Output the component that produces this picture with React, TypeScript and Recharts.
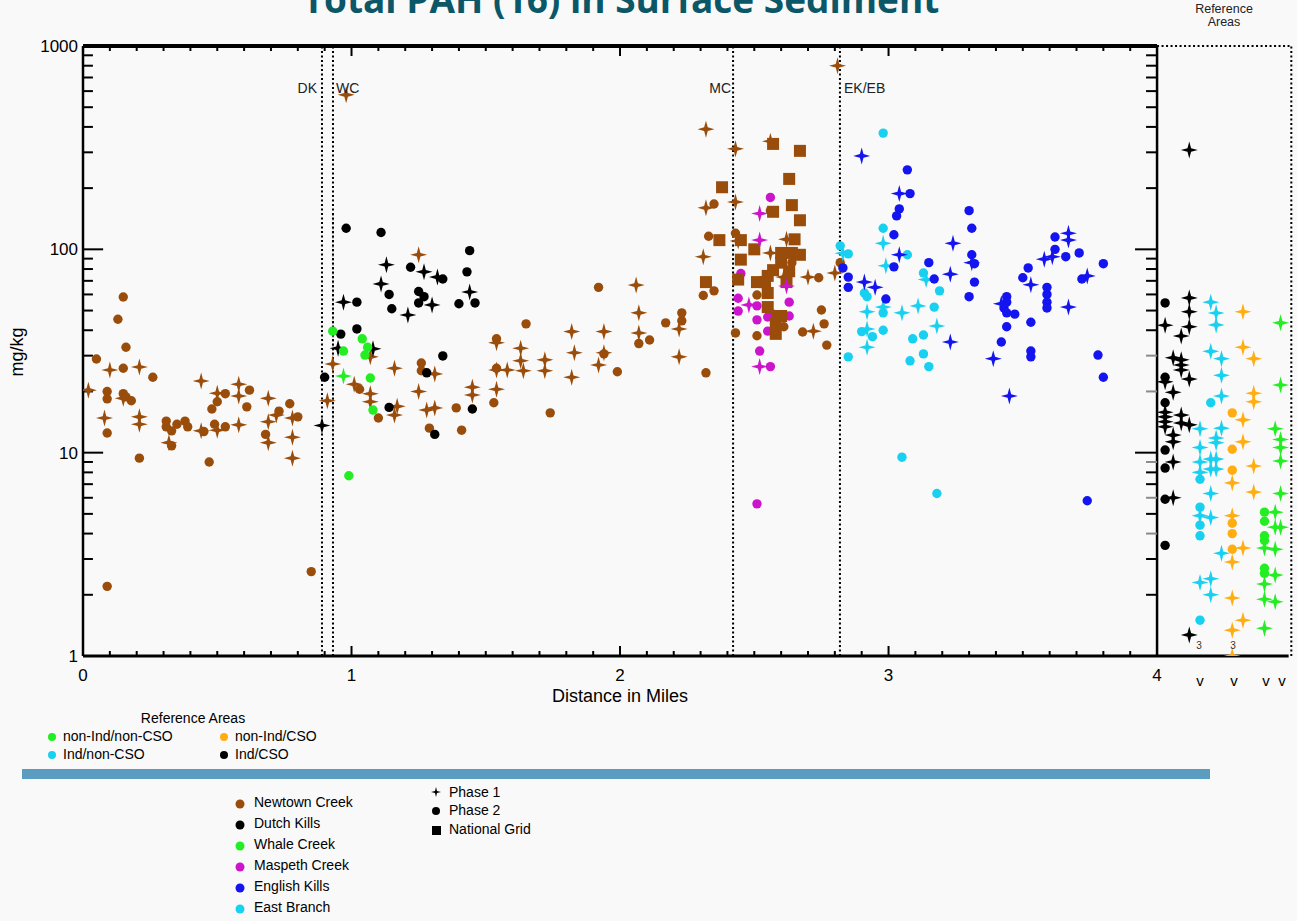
import React from "react";
import { ScatterChart, Scatter, XAxis, YAxis, ReferenceLine } from "recharts";

// [distance in miles, total PAH mg/kg]
const newtownPhase1 = [
  [0.02, 20.3], [0.1, 25.5], [0.08, 14.8], [0.15, 18.5], [0.21, 26.4], [0.21, 15.0], [0.21, 13.8],
  [0.32, 11.2], [0.44, 22.5], [0.44, 12.8], [0.5, 19.6], [0.5, 12.9], [0.58, 21.7], [0.58, 19.0],
  [0.58, 13.7], [0.69, 18.5], [0.69, 14.2], [0.69, 11.2], [0.72, 15.3], [0.78, 14.8], [0.78, 11.9],
  [0.78, 9.4], [0.91, 18.0], [0.93, 27.3], [0.98, 575], [1.01, 21.7], [1.07, 29.6], [1.07, 19.5],
  [1.07, 17.8], [1.16, 26], [1.17, 16.9], [1.16, 15.3], [1.25, 94], [1.25, 20], [1.31, 24.4],
  [1.28, 16.2], [1.31, 16.6], [1.45, 21], [1.45, 19.2], [1.54, 20.5], [1.54, 34.7], [1.54, 25.5],
  [1.58, 25.5], [1.63, 32.6], [1.63, 28.3], [1.64, 25.3], [1.72, 28.6], [1.72, 25.3], [1.82, 39.4],
  [1.83, 31], [1.82, 23.5], [1.94, 39.4], [1.94, 31], [1.92, 27], [2.06, 66.7], [2.07, 48.7],
  [2.07, 38.8], [2.22, 40.6], [2.22, 29.6], [2.32, 390], [2.43, 312], [2.56, 340], [2.32, 160],
  [2.43, 171], [2.44, 110], [2.31, 92], [2.56, 96], [2.62, 112], [2.7, 73], [2.8, 76.5], [2.61, 73],
  [2.72, 39.6], [2.81, 800],
];
const newtownPhase2 = [
  [0.05, 28.9], [0.15, 58.3], [0.13, 45.3], [0.16, 33], [0.15, 26], [0.09, 20], [0.09, 18.4],
  [0.09, 12.5], [0.15, 19.5], [0.16, 18.8], [0.18, 18], [0.26, 23.5], [0.21, 9.4], [0.31, 14.3],
  [0.31, 13.4], [0.33, 12.8], [0.35, 13.8], [0.33, 10.8], [0.38, 14.3], [0.39, 13.4], [0.45, 12.7],
  [0.47, 9.0], [0.48, 16.4], [0.49, 13.8], [0.5, 17.8], [0.53, 19.5], [0.53, 13.4], [0.61, 16.8],
  [0.62, 20.3], [0.68, 12.3], [0.73, 16], [0.77, 17.4], [0.8, 15], [0.09, 2.2], [0.85, 2.6],
  [1.03, 20.5], [1.1, 14.8], [1.26, 27.6], [1.26, 25.3], [1.29, 13.2], [1.39, 16.6], [1.41, 12.9],
  [1.53, 17.6], [1.54, 36.3], [1.54, 26], [1.65, 43], [1.74, 15.7], [1.92, 65], [1.94, 30.6],
  [1.99, 25], [2.07, 34.4], [2.11, 35.8], [2.17, 43.5], [2.23, 48.7], [2.23, 44.5], [2.31, 59.3],
  [2.35, 62.5], [2.32, 24.7], [2.33, 116], [2.35, 167], [2.43, 120], [2.56, 155], [2.64, 86],
  [2.74, 72.5], [2.75, 50.3], [2.51, 59.6], [2.57, 48], [2.76, 43], [2.61, 41.6], [2.43, 38.8],
  [2.51, 37.6], [2.68, 39.2], [2.77, 33.8], [2.82, 86],
];
const newtownNationalGrid = [
  [2.57, 330], [2.67, 305], [2.63, 222], [2.38, 202], [2.64, 165], [2.57, 153], [2.67, 139],
  [2.37, 111], [2.45, 111], [2.65, 112], [2.5, 100], [2.6, 96], [2.64, 96], [2.67, 94], [2.45, 89],
  [2.6, 86], [2.57, 79], [2.63, 78], [2.32, 69], [2.44, 71], [2.51, 69], [2.54, 69], [2.55, 74],
  [2.62, 69], [2.55, 61], [2.55, 52], [2.6, 47], [2.58, 43], [2.58, 38.4],
];
const dutchPhase1 = [
  [0.89, 13.6], [0.95, 32.6], [0.97, 55], [1.11, 67.6], [1.13, 84], [1.08, 32.4], [1.27, 77.5],
  [1.32, 73], [1.3, 53.3], [1.44, 61.7], [1.21, 47.5],
];
const dutchPhase2 = [
  [0.9, 23.5], [0.96, 38.3], [1.02, 55], [1.02, 40.6], [1.14, 60], [1.15, 51], [0.98, 127],
  [1.11, 121], [1.44, 98.5], [1.22, 81.6], [1.34, 71.5], [1.43, 77.5], [1.25, 62], [1.27, 58.5],
  [1.25, 54.5], [1.4, 54], [1.46, 54.5], [1.34, 29.9], [1.28, 24.7], [1.14, 16.7], [1.45, 16.4],
  [1.31, 12.3],
];
const whalePhase1 = [[0.97, 23.8]];
const whalePhase2 = [
  [0.93, 39.6], [0.97, 31.6], [1.04, 36.3], [1.06, 33], [1.05, 30.2], [1.07, 23.3], [1.08, 16.2],
  [0.99, 7.7],
];
const maspethPhase1 = [[2.52, 150], [2.52, 111], [2.62, 66], [2.48, 53.3], [2.52, 26.5]];
const maspethPhase2 = [
  [2.56, 180], [2.45, 76], [2.44, 57.5], [2.51, 52.7], [2.63, 55], [2.44, 49.7], [2.55, 46.5],
  [2.63, 47], [2.51, 45], [2.55, 39.6], [2.52, 31.6], [2.56, 26.5], [2.51, 5.6],
];
const englishPhase1 = [
  [2.9, 288], [3.04, 188], [3.04, 94], [2.91, 69], [2.95, 65], [3.24, 107], [3.23, 75.5],
  [3.23, 35], [3.31, 86], [3.42, 54], [3.39, 29], [3.45, 19], [3.53, 67], [3.58, 89.5], [3.61, 92],
  [3.67, 120], [3.67, 111], [3.67, 52], [3.74, 74],
];
const englishPhase2 = [
  [3.07, 246], [3.08, 188], [3.04, 158], [3.03, 146], [3.02, 118], [3.02, 82], [2.83, 81],
  [2.85, 73], [2.85, 65], [2.99, 57], [3.15, 86], [3.17, 71.5], [3.3, 155], [3.31, 127],
  [3.31, 94], [3.32, 85], [3.32, 69], [3.3, 58.5], [3.52, 81], [3.5, 72.5], [3.44, 58.5],
  [3.44, 55], [3.43, 51.5], [3.44, 48.7], [3.47, 48], [3.44, 41.6], [3.42, 35], [3.59, 65],
  [3.59, 60], [3.59, 55], [3.59, 51.5], [3.53, 43.8], [3.53, 31.6], [3.53, 29.6], [3.62, 115],
  [3.62, 100], [3.66, 92], [3.71, 96], [3.8, 85], [3.72, 71.5], [3.78, 30.2], [3.8, 23.5],
  [3.74, 5.8],
];
const eastPhase1 = [
  [2.98, 107], [2.99, 83], [3.14, 71], [2.92, 49.3], [2.98, 52], [3.05, 48.7], [3.11, 52.7],
  [2.92, 40.6], [2.92, 33], [3.18, 42], [2.83, 95.6],
];
const eastPhase2 = [
  [2.98, 373], [2.98, 127], [2.82, 104], [2.85, 95], [3.07, 94], [3.13, 76.5], [2.91, 61],
  [2.92, 58.5], [2.98, 48.7], [3.17, 52], [3.19, 62.5], [2.9, 39.4], [2.94, 37.2], [2.98, 40],
  [3.09, 36.3], [3.13, 37.9], [2.85, 29.6], [3.08, 28.3], [3.13, 30.6], [3.15, 26.5], [3.05, 9.5],
  [3.18, 6.3],
];

// reference areas, drawn right of mile 4
const refIndCsoPhase1 = [
  [4.03, 42.3], [4.12, 57.7], [4.12, 49.3], [4.12, 41.6], [4.09, 37.5], [4.06, 29.3], [4.09, 28.6],
  [4.09, 27], [4.09, 25.5], [4.12, 23], [4.03, 22.3], [4.06, 19.8], [4.03, 15.8], [4.03, 15],
  [4.03, 14.2], [4.03, 13.4], [4.09, 15.3], [4.09, 14], [4.12, 13.7], [4.06, 12.2], [4.06, 11.3],
  [4.06, 9.0], [4.06, 6.0], [4.12, 1.27], [4.12, 308],
];
const refIndCsoPhase2 = [[4.03, 54.5], [4.03, 23.5], [4.03, 17.6], [4.03, 10.3], [4.03, 8.4], [4.03, 5.9], [4.03, 3.5]];
const refIndNonCsoPhase1 = [
  [4.2, 55], [4.22, 48.6], [4.22, 42.5], [4.2, 31.5], [4.24, 29], [4.24, 24], [4.24, 19],
  [4.16, 13.1], [4.24, 13.2], [4.22, 11.8], [4.22, 11.2], [4.16, 10.6], [4.16, 9.0], [4.16, 8.0],
  [4.2, 9.3], [4.22, 9.3], [4.2, 8.3], [4.22, 8.3], [4.2, 6.3], [4.16, 4.9], [4.2, 4.8],
  [4.24, 3.2], [4.16, 2.3], [4.2, 2.4], [4.2, 2.0],
];
const refIndNonCsoPhase2 = [[4.2, 17.6], [4.16, 7.4], [4.16, 5.4], [4.16, 4.4], [4.16, 3.9], [4.16, 1.5]];
const refNonIndCsoPhase1 = [
  [4.32, 49.3], [4.32, 33], [4.36, 29], [4.36, 19.6], [4.36, 17.8], [4.32, 14.5], [4.32, 11.3],
  [4.36, 8.6], [4.28, 7.1], [4.36, 6.4], [4.28, 4.9], [4.32, 3.4], [4.28, 2.9], [4.28, 1.93],
  [4.32, 1.5], [4.28, 1.34], [4.28, 1.0],
];
const refNonIndCsoPhase2 = [[4.28, 15.7], [4.28, 10.4], [4.28, 8.2], [4.28, 4.5], [4.28, 4.0], [4.28, 3.35]];
const refNonIndNonCsoPhase1 = [
  [4.46, 43.5], [4.46, 21.5], [4.44, 13.1], [4.46, 11.6], [4.46, 10.6], [4.46, 9.1], [4.46, 6.3],
  [4.44, 5.1], [4.44, 4.3], [4.46, 4.3], [4.4, 3.4], [4.44, 3.35], [4.44, 2.5], [4.4, 2.26],
  [4.4, 1.9], [4.44, 1.85], [4.4, 1.37],
];
const refNonIndNonCsoPhase2 = [[4.4, 5.1], [4.4, 4.6], [4.4, 3.9], [4.4, 3.7], [4.4, 2.7], [4.4, 2.55]];

const xLabelTicks = [0, 1, 2, 3, 4];
const yLabelTicks = [1, 10, 100, 1000];
const creekLines = [
  { x: 0.89, label: "DK" },
  { x: 0.931, label: "WC" },
  { x: 2.421, label: "MC" },
  { x: 2.819, label: "EK/EB" },
];
const creekLegend = [
  { name: "Newtown Creek", color: "#9a4d0b" },
  { name: "Dutch Kills", color: "#000000" },
  { name: "Whale Creek", color: "#22ee22" },
  { name: "Maspeth Creek", color: "#cc14cc" },
  { name: "English Kills", color: "#1414f0" },
  { name: "East Branch", color: "#18d0f0" },
];

const BROWN = "#9a4d0b";
const BLACK = "#000000";
const GREEN = "#22ee22";
const MAGENTA = "#cc14cc";
const BLUE = "#1414f0";
const CYAN = "#18d0f0";
const ORANGE = "#ffad10";

const FONT = "'Liberation Sans', Arial, sans-serif";

const toPts = (arr: number[][]) => arr.map(([x, y]) => ({ x, y }));

const starShape = (color: string) => (props: any) => {
  const { cx, cy } = props;
  if (cx == null || cy == null) return <g />;
  const a = 8.5;
  const w = 1.8;
  return (
    <path
      d={`M${cx},${cy - a} L${cx + w},${cy - w} L${cx + a},${cy} L${cx + w},${cy + w} L${cx},${cy + a} L${cx - w},${cy + w} L${cx - a},${cy} L${cx - w},${cy - w} Z`}
      fill={color}
    />
  );
};
const circleShape = (color: string) => (props: any) => {
  const { cx, cy } = props;
  if (cx == null || cy == null) return <g />;
  return <circle cx={cx} cy={cy} r={4.7} fill={color} />;
};
const squareShape = (color: string) => (props: any) => {
  const { cx, cy } = props;
  if (cx == null || cy == null) return <g />;
  return <rect x={cx - 6} y={cy - 6} width={12} height={12} fill={color} />;
};

// tick marks (styling only)
const decadeStarts = [1, 10, 100];
const minorMult = [2, 3, 4, 5, 6, 7, 8, 9];
const yMinor = decadeStarts.flatMap((d) => minorMult.map((m) => d * m));
const yMajor = [10, 100];
const grayRightTicks = [4, 6, 9, 20, 30];
const xMinor: number[] = [];
for (let i = 1; i < 40; i++) if (i % 10 !== 0) xMinor.push(i / 10);
const xMajor = [1, 2, 3];

const seg = (x1: number, y1: number, x2: number, y2: number) => [
  { x: x1, y: y1 },
  { x: x2, y: y2 },
];

const App = () => {
  const series = [
    { data: newtownPhase2, shape: circleShape(BROWN) },
    { data: newtownPhase1, shape: starShape(BROWN) },
    { data: maspethPhase2, shape: circleShape(MAGENTA) },
    { data: newtownNationalGrid, shape: squareShape(BROWN) },
    { data: maspethPhase1, shape: starShape(MAGENTA) },
    { data: dutchPhase2, shape: circleShape(BLACK) },
    { data: dutchPhase1, shape: starShape(BLACK) },
    { data: whalePhase2, shape: circleShape(GREEN) },
    { data: whalePhase1, shape: starShape(GREEN) },
    { data: eastPhase2, shape: circleShape(CYAN) },
    { data: eastPhase1, shape: starShape(CYAN) },
    { data: englishPhase2, shape: circleShape(BLUE) },
    { data: englishPhase1, shape: starShape(BLUE) },
    { data: refIndCsoPhase2, shape: circleShape(BLACK) },
    { data: refIndCsoPhase1, shape: starShape(BLACK) },
    { data: refIndNonCsoPhase2, shape: circleShape(CYAN) },
    { data: refIndNonCsoPhase1, shape: starShape(CYAN) },
    { data: refNonIndCsoPhase2, shape: circleShape(ORANGE) },
    { data: refNonIndCsoPhase1, shape: starShape(ORANGE) },
    { data: refNonIndNonCsoPhase2, shape: circleShape(GREEN) },
    { data: refNonIndNonCsoPhase1, shape: starShape(GREEN) },
  ];

  return (
    <div
      style={{
        position: "absolute",
        left: 0,
        top: 0,
        width: 1297,
        height: 921,
        background: "#f9f9f9",
        fontFamily: FONT,
        overflow: "hidden",
      }}
    >
      <ScatterChart width={1297} height={921} margin={{ top: 46, right: 3, left: 0, bottom: 0 }}>
        <XAxis
          type="number"
          dataKey="x"
          domain={[0, 4.51]}
          ticks={xLabelTicks}
          height={265}
          axisLine={false}
          tickLine={false}
          allowDataOverflow
          tick={(p: any) => (
            <text x={p.x} y={681} textAnchor="middle" fontSize={17} fontFamily={FONT} fill="#000">
              {p.payload.value}
            </text>
          )}
        />
        <YAxis
          type="number"
          dataKey="y"
          scale="log"
          domain={[1, 1000]}
          ticks={yLabelTicks}
          width={83}
          axisLine={false}
          tickLine={false}
          allowDataOverflow
          tick={(p: any) => (
            <text x={78} y={p.y + 6} textAnchor="end" fontSize={17} fontFamily={FONT} fill="#000">
              {p.payload.value}
            </text>
          )}
        />
        {series.map((s, i) => (
          <Scatter key={i} data={toPts(s.data)} shape={s.shape} isAnimationActive={false} />
        ))}

        {/* gray partial dotted guides */}
        <ReferenceLine segment={seg(0.931, 12, 0.931, 151)} stroke="#999" strokeWidth={2} strokeDasharray="2 2.5" />
        <ReferenceLine segment={seg(2.421, 23.5, 2.421, 207)} stroke="#999" strokeWidth={2} strokeDasharray="2 2.5" />

        {creekLines.map((c) => (
          <ReferenceLine
            key={c.label}
            segment={seg(c.x, 1, c.x, 1000)}
            stroke="#000"
            strokeWidth={2}
            strokeDasharray="2 2.5"
          />
        ))}

        {/* frame */}
        <ReferenceLine segment={seg(0, 1, 0, 1000)} stroke="#000" strokeWidth={2.5} />
        <ReferenceLine segment={seg(0, 1000, 4, 1000)} stroke="#000" strokeWidth={4} />
        <ReferenceLine segment={seg(4, 1000, 4.5, 1000)} stroke="#000" strokeWidth={2} strokeDasharray="2 2.5" />
        <ReferenceLine segment={seg(0, 1, 4.49, 1)} stroke="#000" strokeWidth={3} />
        <ReferenceLine segment={seg(4, 1, 4, 1000)} stroke="#000" strokeWidth={2.5} />
        <ReferenceLine segment={seg(4.5, 1, 4.5, 1000)} stroke="#000" strokeWidth={2} strokeDasharray="2 2.5" />

        {/* y ticks, left and at mile 4 */}
        {yMinor.map((v) => (
          <ReferenceLine key={`lm${v}`} segment={seg(0, v, 0.037, v)} stroke="#000" strokeWidth={2} />
        ))}
        {yMajor.map((v) => (
          <ReferenceLine key={`lM${v}`} segment={seg(0, v, 0.075, v)} stroke="#000" strokeWidth={2} />
        ))}
        {yMinor.map((v) => (
          <ReferenceLine
            key={`rm${v}`}
            segment={seg(3.959, v, 4, v)}
            stroke={grayRightTicks.includes(v) ? "#8a8a8a" : "#000"}
            strokeWidth={2}
          />
        ))}
        {yMajor.map((v) => (
          <ReferenceLine key={`rM${v}`} segment={seg(3.918, v, 4, v)} stroke="#000" strokeWidth={2} />
        ))}

        {/* x ticks, top and bottom */}
        {xMinor.map((t) => (
          <ReferenceLine key={`tm${t}`} segment={seg(t, 1000, t, 945)} stroke="#000" strokeWidth={2} />
        ))}
        {xMinor.map((t) => (
          <ReferenceLine key={`bm${t}`} segment={seg(t, 1, t, 1.058)} stroke="#000" strokeWidth={2} />
        ))}
        {xMajor.map((t) => (
          <ReferenceLine key={`tM${t}`} segment={seg(t, 1000, t, 893)} stroke="#000" strokeWidth={2} />
        ))}
        {xMajor.map((t) => (
          <ReferenceLine key={`bM${t}`} segment={seg(t, 1, t, 1.12)} stroke="#000" strokeWidth={2} />
        ))}
      </ScatterChart>

      <svg
        width={1297}
        height={921}
        style={{ position: "absolute", left: 0, top: 0, pointerEvents: "none" }}
        fontFamily={FONT}
      >
        <text
          x={621}
          y={13}
          textAnchor="middle"
          fontFamily="'Open Sans', sans-serif"
          fontWeight={700}
          fontSize={37}
          fill="#0b5768"
        >
          Total PAH (16) in Surface Sediment
        </text>
        <text x={1224} y={13} textAnchor="middle" fontSize={12.5} fill="#222">Reference</text>
        <text x={1224} y={26} textAnchor="middle" fontSize={12.5} fill="#222">Areas</text>

        <text transform="rotate(-90)" x={-352} y={23} textAnchor="middle" fontSize={18} fill="#000">
          mg/kg
        </text>
        <text x={620} y={702} textAnchor="middle" fontSize={18} fill="#000">
          Distance in Miles
        </text>

        <text x={317} y={93} textAnchor="end" fontSize={14} fill="#222">DK</text>
        <text x={336} y={93} textAnchor="start" fontSize={14} fill="#222">WC</text>
        <text x={731} y={93} textAnchor="end" fontSize={14} fill="#222">MC</text>
        <text x={844} y={93} textAnchor="start" fontSize={14} fill="#222">EK/EB</text>

        {[1200, 1234, 1266, 1282].map((x) => (
          <text key={x} x={x} y={686} textAnchor="middle" fontSize={15} fill="#000">v</text>
        ))}
        <text x={1199} y={649} textAnchor="middle" fontSize={10} fill="#333">3</text>
        <text x={1233} y={649} textAnchor="middle" fontSize={10} fill="#333">3</text>

        {/* reference area legend */}
        <text x={193} y={723} textAnchor="middle" fontSize={14} fill="#000">Reference Areas</text>
        <circle cx={52} cy={737} r={4} fill={GREEN} />
        <text x={63} y={741} fontSize={14} fill="#000">non-Ind/non-CSO</text>
        <circle cx={224} cy={737} r={4} fill={ORANGE} />
        <text x={235} y={741} fontSize={14} fill="#000">non-Ind/CSO</text>
        <circle cx={52} cy={755} r={4} fill={CYAN} />
        <text x={63} y={759} fontSize={14} fill="#000">Ind/non-CSO</text>
        <circle cx={224} cy={755} r={4} fill={BLACK} />
        <text x={235} y={759} fontSize={14} fill="#000">Ind/CSO</text>

        <rect x={22} y={769} width={1188} height={10} fill="#5a9dc0" />

        {creekLegend.map((c, i) => (
          <g key={c.name}>
            <circle cx={240} cy={804 + i * 21} r={4.5} fill={c.color} />
            <text x={254} y={807 + i * 21} fontSize={14} fill="#000">{c.name}</text>
          </g>
        ))}

        <path d="M436,787 L437,791 L441,792 L437,793 L436,797 L435,793 L431,792 L435,791 Z" fill="#000" />
        <text x={449} y={797} fontSize={14} fill="#000">Phase 1</text>
        <circle cx={436} cy={811} r={4} fill="#000" />
        <text x={449} y={815} fontSize={14} fill="#000">Phase 2</text>
        <rect x={432} y={826} width={9} height={9} fill="#000" />
        <text x={449} y={834} fontSize={14} fill="#000">National Grid</text>
      </svg>
    </div>
  );
};

export default App;
